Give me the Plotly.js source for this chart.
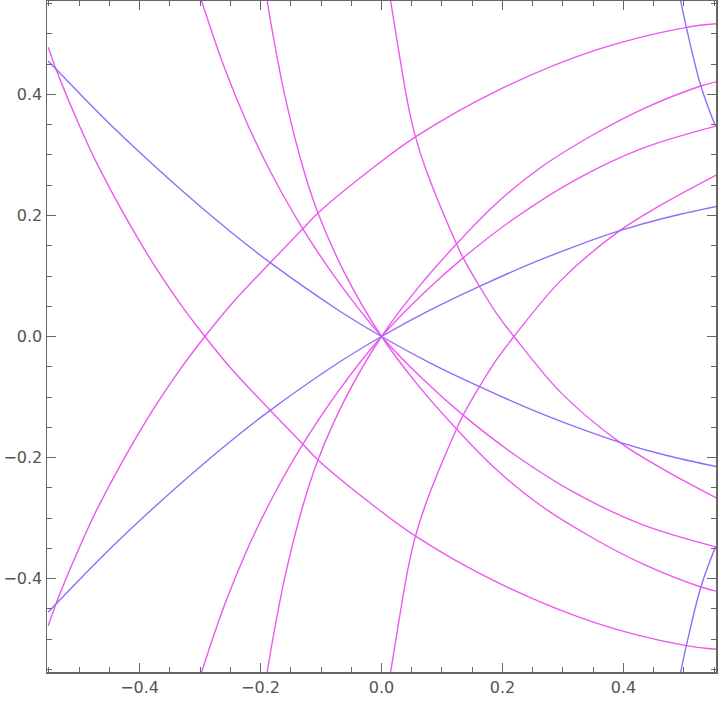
<!DOCTYPE html>
<html>
<head>
<meta charset="utf-8">
<script src="https://cdn.plot.ly/plotly-3.0.1.min.js"></script>
<style>html,body{margin:0;padding:0;background:#fff;}#chart{width:720px;height:706px;}</style>
</head>
<body>
<div id="chart"></div>
<script>
// Tick positions / labels
var majorTicks = [-0.4, -0.2, 0, 0.2, 0.4];
var majorLabels = ['\u22120.4', '\u22120.2', '0.0', '0.2', '0.4'];
var minorTicks = [-0.55, -0.5, -0.45, -0.35, -0.3, -0.25, -0.15, -0.1, -0.05, 0.05, 0.1, 0.15, 0.25, 0.3, 0.35, 0.45, 0.5, 0.55];

// Blue curves
var bA_x = [-0.551, -0.539, -0.45, -0.35, -0.25, -0.184, -0.07, 0, 0.08, 0.162, 0.25, 0.33, 0.394, 0.47, 0.554];
var bA_y = [0.4555, 0.443, 0.352, 0.259, 0.1734, 0.122, 0.0426, 0, -0.0435, -0.0829, -0.1216, -0.1527, -0.1749, -0.1962, -0.215];
var bB_x = [-0.551, -0.539, -0.45, -0.35, -0.25, -0.184, -0.07, 0, 0.08, 0.162, 0.25, 0.33, 0.394, 0.47, 0.554];
var bB_y = [-0.4555, -0.443, -0.352, -0.259, -0.1734, -0.122, -0.0426, 0, 0.0435, 0.0829, 0.1216, 0.1527, 0.1749, 0.1962, 0.215];
var bC_x = [0.4945, 0.504, 0.528, 0.552];
var bC_y = [0.555, 0.511, 0.414, 0.348];
var bD_x = [0.4945, 0.504, 0.528, 0.552];
var bD_y = [-0.555, -0.511, -0.414, -0.348];

// Magenta curves
var m1_x = [-0.551, -0.539, -0.5306, -0.500, -0.467, -0.390, -0.335, -0.292, -0.2468, -0.184, -0.130, -0.105, -0.015, 0.0562, 0.190, 0.3537, 0.504, 0.554];
var m1_y = [0.478, 0.444, 0.4225, 0.350, 0.279, 0.1407, 0.0572, 0, -0.055, -0.122, -0.178, -0.204, -0.278, -0.330, -0.4057, -0.4732, -0.511, -0.517];
var m1b_x = [-0.551, -0.539, -0.5306, -0.500, -0.467, -0.390, -0.335, -0.292, -0.2468, -0.184, -0.130, -0.105, -0.015, 0.0562, 0.190, 0.3537, 0.504, 0.554];
var m1b_y = [-0.478, -0.444, -0.4225, -0.350, -0.279, -0.1407, -0.0572, 0, 0.055, 0.122, 0.178, 0.204, 0.278, 0.330, 0.4057, 0.4732, 0.511, 0.517];

var m2_x = [-0.2975, -0.26, -0.22, -0.18, -0.13, -0.07, 0, 0.07, 0.135, 0.22, 0.32, 0.43, 0.553];
var m2_y = [0.555, 0.445, 0.3476, 0.2657, 0.178, 0.0885, 0, -0.072, -0.130, -0.1954, -0.2586, -0.3105, -0.3478];
var m2b_x = [-0.2975, -0.26, -0.22, -0.18, -0.13, -0.07, 0, 0.07, 0.135, 0.22, 0.32, 0.43, 0.553];
var m2b_y = [-0.555, -0.445, -0.3476, -0.2657, -0.178, -0.0885, 0, 0.072, 0.130, 0.1954, 0.2586, 0.3105, 0.3478];

var m3_x = [-0.189, -0.1818, -0.160, -0.1294, -0.105, -0.0615, 0, 0.06, 0.124, 0.1876, 0.262, 0.3537, 0.4364, 0.528, 0.554];
var m3_y = [0.555, 0.512, 0.399, 0.2777, 0.204, 0.106, 0, -0.080, -0.153, -0.2179, -0.2785, -0.3355, -0.378, -0.414, -0.421];
var m3b_x = [-0.189, -0.1818, -0.160, -0.1294, -0.105, -0.0615, 0, 0.06, 0.124, 0.1876, 0.262, 0.3537, 0.4364, 0.528, 0.554];
var m3b_y = [-0.555, -0.512, -0.399, -0.2777, -0.204, -0.106, 0, 0.080, 0.153, 0.2179, 0.2785, 0.3355, 0.378, 0.414, 0.421];

var m4_x = [0.015, 0.0275, 0.0441, 0.0562, 0.0727, 0.124, 0.135, 0.162, 0.189, 0.219, 0.2978, 0.394, 0.4631, 0.554];
var m4_y = [0.555, 0.478, 0.382, 0.330, 0.278, 0.153, 0.130, 0.083, 0.040, 0, -0.094, -0.175, -0.2179, -0.267];
var m4b_x = [0.015, 0.0275, 0.0441, 0.0562, 0.0727, 0.124, 0.135, 0.162, 0.189, 0.219, 0.2978, 0.394, 0.4631, 0.554];
var m4b_y = [-0.555, -0.478, -0.382, -0.330, -0.278, -0.153, -0.130, -0.083, -0.040, 0, 0.094, 0.175, 0.2179, 0.267];

var MAG = 'rgb(238,88,238)';
var BLU = 'rgb(148,108,250)';

function curve(x, y, color) {
  return {type: 'scatter', mode: 'lines', x: x, y: y,
          line: {color: color, width: 1.4, shape: 'spline', smoothing: 1},
          hoverinfo: 'skip'};
}

var traces = [
  curve(m1_x, m1_y, MAG), curve(m1b_x, m1b_y, MAG),
  curve(m2_x, m2_y, MAG), curve(m2b_x, m2b_y, MAG),
  curve(m3_x, m3_y, MAG), curve(m3b_x, m3b_y, MAG),
  curve(m4_x, m4_y, MAG), curve(m4b_x, m4b_y, MAG),
  curve(bA_x, bA_y, BLU), curve(bB_x, bB_y, BLU),
  curve(bC_x, bC_y, BLU), curve(bD_x, bD_y, BLU)
];

var frame = '#666666';
function axis(range) {
  return {
    range: range, tickmode: 'array', tickvals: majorTicks, ticktext: majorLabels,
    ticks: 'inside', ticklen: 9, tickwidth: 1.5, tickcolor: frame,
    showline: true, linecolor: frame, linewidth: 1.5, mirror: 'ticks',
    showgrid: false, zeroline: false, fixedrange: true,
    tickfont: {family: 'DejaVu Sans', size: 16, color: '#555555'},
    minor: {tickmode: 'array', tickvals: minorTicks, ticks: 'inside', ticklen: 5, tickwidth: 1, tickcolor: frame, showgrid: false}
  };
}

var layout = {
  width: 720, height: 706,
  margin: {l: 47, r: 4, t: 1, b: 34},
  paper_bgcolor: '#ffffff', plot_bgcolor: '#ffffff',
  showlegend: false,
  xaxis: axis([-0.553, 0.553]),
  yaxis: axis([-0.5545, 0.5545])
};

Plotly.newPlot('chart', traces, layout, {staticPlot: true, displayModeBar: false});
</script>
</body>
</html>
